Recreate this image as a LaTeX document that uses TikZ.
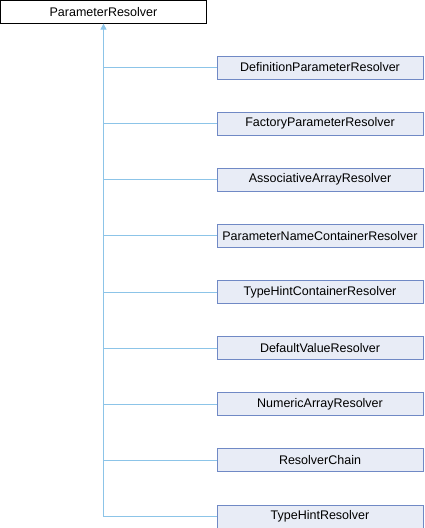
\documentclass[tikz,border=0pt]{standalone}
\usepackage{fontspec}
\setmainfont{Liberation Sans}
\usetikzlibrary{arrows.meta,positioning}
\definecolor{edgeblue}{HTML}{8CC4E8}
\definecolor{boxfill}{HTML}{E8ECF6}
\definecolor{boxdraw}{HTML}{7089C5}
\tikzset{
  base/.style={draw=black, fill=white, minimum width=206bp, minimum height=23bp, inner sep=0pt, font=\fontsize{12.5bp}{14bp}\selectfont, line width=0.8bp},
  child/.style={draw=boxdraw, fill=boxfill, minimum width=206bp, minimum height=23bp, inner sep=0pt, font=\fontsize{12.5bp}{14bp}\selectfont, line width=0.8bp},
  edge/.style={draw=edgeblue, line width=1bp},
}
\begin{document}
\begin{tikzpicture}[x=1bp,y=-1bp]
\useasboundingbox (0,0) rectangle (424,528);
\node[base] (pr) at (103.5,11.75) {ParameterResolver};
\coordinate (trunk) at (103.5,516.5);
\foreach \n/\t [count=\i from 0] in {
  dpr/DefinitionParameterResolver,
  fpr/FactoryParameterResolver,
  aar/AssociativeArrayResolver,
  pncr/ParameterNameContainerResolver,
  thcr/TypeHintContainerResolver,
  dvr/DefaultValueResolver,
  nar/NumericArrayResolver,
  rc/ResolverChain,
  thr/TypeHintResolver}{
  \node[child] (\n) at (320,67.5+56.125*\i) {\t};
  \draw[edge] (\n.west) -- (\n.west -| pr.south);
}
\draw[edge, -{Triangle[length=6bp, width=6bp, fill=edgeblue]}] (trunk) -- (pr.south);
\end{tikzpicture}
\end{document}
